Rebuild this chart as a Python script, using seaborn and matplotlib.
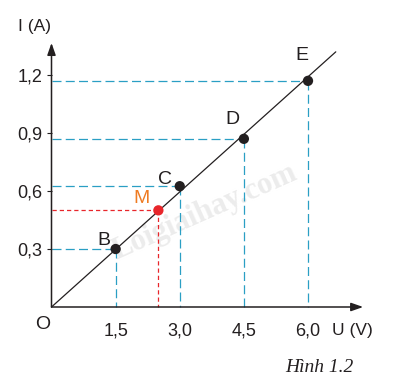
import matplotlib
matplotlib.use("Agg")
import matplotlib.pyplot as plt
import seaborn as sns
import pandas as pd

# ---- data ----
point_names = ["B", "C", "D", "E"]
u_values = [1.5, 3.0, 4.5, 6.0]          # U (V)
i_values = [0.30, 0.625, 0.87, 1.17]     # I (A)
m_name = "M"
m_u = 2.5
m_i = 0.50
line_u = [0.0, 6.65]
line_i = [0.0, 1.32]
x_ticks = [1.5, 3.0, 4.5, 6.0]
x_tick_labels = ["1,5", "3,0", "4,5", "6,0"]
y_ticks = [0.3, 0.6, 0.9, 1.2]
y_tick_labels = ["0,3", "0,6", "0,9", "1,2"]
x_label = "U (V)"
y_label = "I (A)"
origin_label = "O"
caption = "Hình 1.2"
watermark = "Loigiaihay.com"

sns.set_theme(style="white")
plt.rcParams["font.family"] = ["Liberation Sans", "DejaVu Sans"]

INK = "#231f20"
CYAN = "#2a9fc4"
RED = "#e8262b"
ORANGE = "#ef7b22"

W, H = 394, 389
fig = plt.figure(figsize=(W / 100, H / 100), dpi=100)
ax = fig.add_axes([0, 0, 1, 1])
ax.set_facecolor("white")

# pixel mapping: x_px = 51.5 + 42.75*u ; y_px(from top) = 307 - 193.3*i
sx, ox = 42.75, 51.5
sy, oy = 193.3, 307.0
ax.set_xlim(-ox / sx, (W - ox) / sx)
ax.set_ylim((oy - H) / sy, oy / sy)

# watermark (behind everything else in the axes)
ax.text(205 / W, 1 - 212 / H, watermark, rotation=24, ha="center", va="center",
        fontsize=22, fontweight="bold", family="Liberation Serif",
        color="#ececec", zorder=0.5, transform=ax.transAxes)

# spines at data zero, used only for tick placement
for s in ["top", "right"]:
    ax.spines[s].set_visible(False)
ax.spines["left"].set_position(("data", 0))
ax.spines["bottom"].set_position(("data", 0))
ax.spines["left"].set_visible(False)
ax.spines["bottom"].set_visible(False)

x_tip = 7.29
y_tip = 1.366
arrow_kw = dict(arrowstyle="-|>,head_length=0.6,head_width=0.21", lw=1.1,
                color=INK, shrinkA=0, shrinkB=0, mutation_scale=12)
ax.annotate("", xy=(x_tip, 0), xytext=(0, 0), arrowprops=arrow_kw, zorder=5)
ax.annotate("", xy=(0, y_tip), xytext=(0, 0), arrowprops=arrow_kw, zorder=5)

ax.set_xticks(x_ticks)
ax.set_xticklabels(x_tick_labels)
ax.set_yticks(y_ticks)
ax.set_yticklabels(y_tick_labels)
ax.tick_params(axis="x", length=0, pad=10.8, labelsize=13, colors=INK)
ax.tick_params(axis="y", length=3.6, width=0.8, pad=3.0, labelsize=13,
               colors=INK, direction="out", left=True)
ax.grid(False)

# dashed guide lines
cyan_ls = (0, (7.2, 3.4))
for u, i in zip(u_values, i_values):
    ax.plot([0, u], [i, i], color=CYAN, lw=0.9, ls=cyan_ls, zorder=2)
    ax.plot([u, u], [i, 0], color=CYAN, lw=0.9, ls=cyan_ls, zorder=2)
red_ls = (0, (3.4, 2.4))
ax.plot([0, m_u], [m_i, m_i], color=RED, lw=0.9, ls=red_ls, zorder=2)
ax.plot([m_u, m_u], [m_i, 0], color=RED, lw=0.9, ls=red_ls, zorder=2)

# characteristic line
sns.lineplot(x=line_u, y=line_i, ax=ax, color=INK, lw=0.9, zorder=3)

# points
pts = pd.DataFrame({"U": u_values, "I": i_values, "name": point_names})
sns.scatterplot(data=pts, x="U", y="I", ax=ax, color=INK, s=55,
                edgecolor="none", zorder=4, legend=False)
sns.scatterplot(x=[m_u], y=[m_i], ax=ax, color=RED, s=55,
                edgecolor="none", zorder=4, legend=False)

offsets = {"B": (-12, 9), "C": (-15, 7), "D": (-11, 19), "E": (-6, 25)}
for name, u, i in zip(point_names, u_values, i_values):
    ax.annotate(name, xy=(u, i), xytext=offsets[name], textcoords="offset pixels",
                ha="center", va="center", fontsize=14, color=INK, zorder=6)
ax.annotate(m_name, xy=(m_u, m_i), xytext=(-17, 12), textcoords="offset pixels",
            ha="center", va="center", fontsize=14, color=ORANGE, zorder=6)

# axis labels
ax.annotate(origin_label, xy=(0, 0), xytext=(-9, -17.5), textcoords="offset pixels",
            ha="center", va="center", fontsize=14, color=INK)
ax.annotate(y_label, xy=(0, y_tip), xytext=(-16.5, 16), textcoords="offset pixels",
            ha="center", va="center", fontsize=12.5, color=INK)
ax.annotate(x_label, xy=(x_tip, 0), xytext=(-10.5, -23), textcoords="offset pixels",
            ha="center", va="center", fontsize=12.5, color=INK)

fig.text(319 / W, 1 - 368 / H, caption, ha="center", va="center",
         fontsize=14, style="italic", family="Liberation Serif", color=INK)

ax.set_xlabel("")
ax.set_ylabel("")
fig.savefig("out.png", dpi=100)
